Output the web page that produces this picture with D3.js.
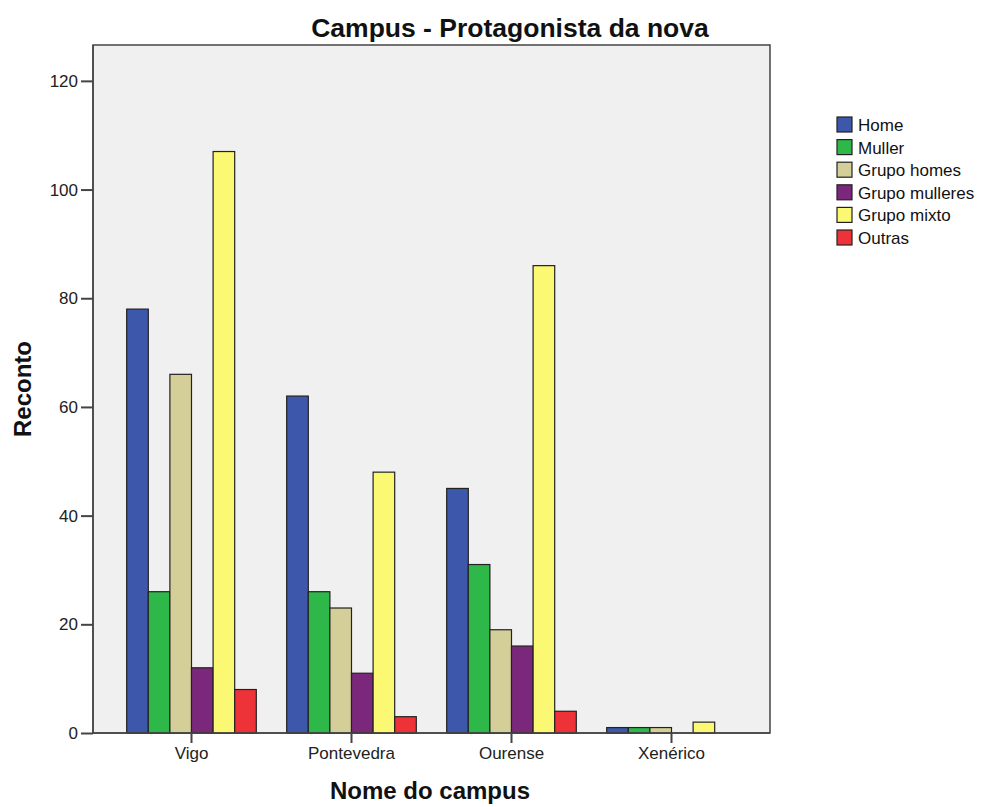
<!DOCTYPE html>
<html><head><meta charset="utf-8">
<script src="https://cdn.jsdelivr.net/npm/d3@7"></script>
<style>body{margin:0;background:#fff;}svg{display:block;font-family:"Liberation Sans",Arial,sans-serif;}</style>
</head><body>
<script>
const categories = ["Vigo", "Pontevedra", "Ourense", "Xenérico"];
const seriesNames = ["Home", "Muller", "Grupo homes", "Grupo mulleres", "Grupo mixto", "Outras"];
const home = [78, 62, 45, 1];
const muller = [26, 26, 31, 1];
const grupoHomes = [66, 23, 19, 1];
const grupoMulleres = [12, 11, 16, 0];
const grupoMixto = [107, 48, 86, 2];
const outras = [8, 3, 4, 0];
const yTicks = [0, 20, 40, 60, 80, 100, 120];
const colors = ["#3d57aa", "#2fb84a", "#d4cf99", "#7b287c", "#fbf873", "#ee3338"];

const seriesValues = [home, muller, grupoHomes, grupoMulleres, grupoMixto, outras];
const W = 982, H = 807;
const L = 93, R = 770, T = 45, B = 733;
const svg = d3.select("body").append("svg").attr("width", W).attr("height", H);

svg.append("rect").attr("x", L).attr("y", T).attr("width", R - L).attr("height", B - T)
  .attr("fill", "#f0f0f0").attr("stroke", "#444").attr("stroke-width", 1.5);

const x = d3.scaleBand().domain(categories).range([L + 18.5, R - 18.5]).padding(0);
const clusterW = x.bandwidth() * 0.81;
const x1 = d3.scaleBand().domain(seriesNames)
  .range([(x.bandwidth() - clusterW) / 2, (x.bandwidth() + clusterW) / 2]).padding(0);
const y = d3.scaleLinear().domain([0, 126.6]).range([B, T]);

categories.forEach((c, ci) => {
  seriesNames.forEach((s, si) => {
    const v = seriesValues[si][ci];
    if (v <= 0) return;
    svg.append("rect")
      .attr("x", x(c) + x1(s)).attr("y", y(v))
      .attr("width", x1.bandwidth()).attr("height", y(0) - y(v))
      .attr("fill", colors[si]).attr("stroke", "#222").attr("stroke-width", 1.2);
  });
});

// y axis
const yAxis = d3.axisLeft(y).tickValues(yTicks).tickSize(12).tickPadding(3);
const gy = svg.append("g").attr("transform", `translate(${L},0)`).call(yAxis);
gy.select(".domain").remove();
gy.selectAll(".tick line").attr("stroke", "#444").attr("stroke-width", 2);
gy.selectAll(".tick text").attr("font-size", 17).attr("fill", "#222").attr("font-family", "Liberation Sans, Arial, sans-serif");

// x axis
const xAxis = d3.axisBottom(x).tickSize(10).tickPadding(4);
const gx = svg.append("g").attr("transform", `translate(0,${B})`).call(xAxis);
gx.select(".domain").remove();
gx.selectAll(".tick line").attr("stroke", "#444").attr("stroke-width", 2);
gx.selectAll(".tick text").attr("font-size", 17).attr("fill", "#222").attr("font-family", "Liberation Sans, Arial, sans-serif");

// redraw frame lines on top
svg.append("line").attr("x1", L).attr("x2", R).attr("y1", B).attr("y2", B).attr("stroke", "#444").attr("stroke-width", 1.5);
svg.append("line").attr("x1", L).attr("x2", L).attr("y1", T).attr("y2", B).attr("stroke", "#444").attr("stroke-width", 1.5);

// titles
svg.append("text").attr("x", 510).attr("y", 37).attr("text-anchor", "middle")
  .attr("font-size", 26.5).attr("font-weight", "bold").attr("fill", "#111").text("Campus - Protagonista da nova");
svg.append("text").attr("x", 430).attr("y", 799).attr("text-anchor", "middle")
  .attr("font-size", 24).attr("font-weight", "bold").attr("fill", "#111").text("Nome do campus");
svg.append("text").attr("transform", "translate(31,389) rotate(-90)").attr("text-anchor", "middle")
  .attr("font-size", 24).attr("font-weight", "bold").attr("fill", "#111").text("Reconto");

// legend
const lg = svg.append("g").attr("transform", "translate(837,117)");
seriesNames.forEach((s, i) => {
  const g = lg.append("g").attr("transform", `translate(0,${i * 22.6})`);
  g.append("rect").attr("width", 15).attr("height", 15).attr("fill", colors[i]).attr("stroke", "#222").attr("stroke-width", 1.2);
  g.append("text").attr("x", 21).attr("y", 14).attr("font-size", 17).attr("fill", "#111").text(s);
});
</script>
</body></html>
